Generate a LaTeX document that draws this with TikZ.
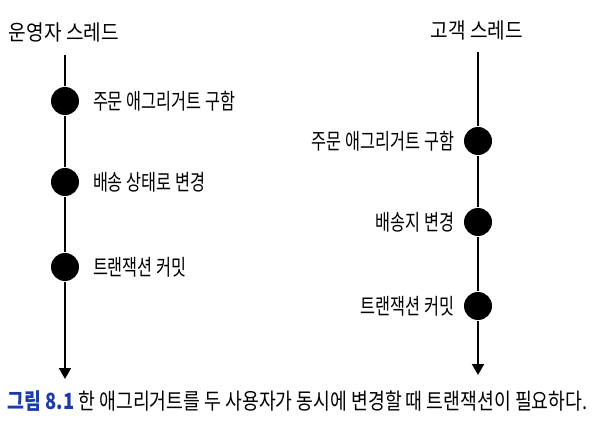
\documentclass[tikz,border=0pt]{standalone}
\usepackage{fontspec}
\setmainfont{Noto Sans CJK KR}
\newfontfamily\lblfont[FakeStretch=0.74]{Noto Sans CJK KR}
\newfontfamily\titlefont[FakeStretch=0.89]{Noto Sans CJK KR}
\newfontfamily\capfont[FakeStretch=0.82]{Noto Sans CJK KR}
\usetikzlibrary{arrows.meta}
\definecolor{figblue}{RGB}{28,58,168}
\begin{document}
\begin{tikzpicture}[x=1pt, y=-1pt, line width=2pt,
  event/.style={circle, fill=black, inner sep=0pt, minimum size=28pt},
  lbl/.style={font=\lblfont\fontsize{22}{24}\selectfont, inner sep=0pt},
  thread/.style={font=\titlefont\fontsize{21.5}{23}\selectfont, inner sep=0pt}]
\useasboundingbox (0,0) rectangle (605,422);
% operator thread
\node[thread, anchor=west] (opname) at (8,32) {운영자 스레드};
\coordinate (optop) at (65,55);
\coordinate (opend) at (65,379);
\node[event] (op1) at (65,101) {};
\node[event] (op2) at (65,182) {};
\node[event] (op3) at (65,267) {};
\node[lbl, anchor=west] (op1t) at (92,101) {주문 애그리거트 구함};
\node[lbl, anchor=west] (op2t) at (92,182) {배송 상태로 변경};
\node[lbl, anchor=west] (op3t) at (92,267) {트랜잭션 커밋};
\draw (optop) -- (op1) -- (op2) -- (op3);
\draw[-{Triangle[width=12pt,length=11pt]}] (op3) -- (opend);
% customer thread
\node[thread] (cuname) at (477,30) {고객 스레드};
\coordinate (cutop) at (478,52);
\coordinate (cuend) at (478,375);
\node[event] (cu1) at (478,141) {};
\node[event] (cu2) at (478,222) {};
\node[event] (cu3) at (478,306) {};
\node[lbl, anchor=east] (cu1t) at (455,141) {주문 애그리거트 구함};
\node[lbl, anchor=east] (cu2t) at (455,222) {배송지 변경};
\node[lbl, anchor=east] (cu3t) at (455,306) {트랜잭션 커밋};
\draw (cutop) -- (cu1) -- (cu2) -- (cu3);
\draw[-{Triangle[width=12pt,length=11pt]}] (cu3) -- (cuend);
% caption
\node[anchor=west, inner sep=0pt, font=\capfont\fontsize{22.3}{24}\selectfont] (cap) at (7,401)
  {\textcolor{figblue}{\textbf{그림 8.1}} 한 애그리거트를 두 사용자가 동시에 변경할 때 트랜잭션이 필요하다.};
\end{tikzpicture}
\end{document}
